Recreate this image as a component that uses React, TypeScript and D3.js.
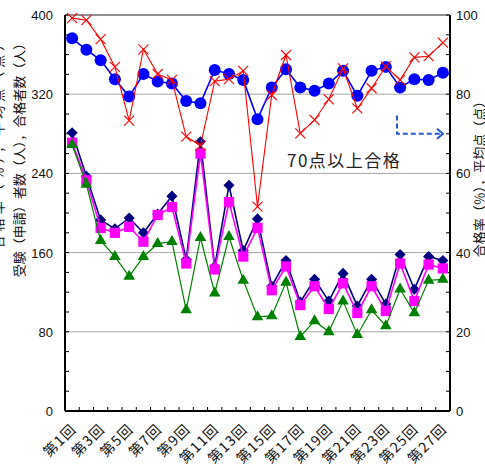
import { useEffect, useRef } from 'react';
import * as d3 from 'd3';

// 回次
const rounds = Array.from({ length: 27 }, (_, i) => `第${i + 1}回`);

// 左軸（人）
const applicants = [281, 237, 193, 184, 195, 180, 199, 217, 153, 272, 146, 228, 162, 194, 126, 152, 110, 133, 111, 139, 106, 133, 108, 158, 123, 156, 152];
const examinees = [271, 233, 185, 180, 186, 171, 198, 206, 149, 260, 143, 211, 156, 185, 122, 146, 107, 126, 103, 129, 99, 126, 101, 149, 111, 148, 144];
const passers = [269, 229, 172, 156, 136, 156, 169, 171, 102, 175, 119, 176, 132, 95, 96, 130, 75, 91, 80, 111, 77, 102, 86, 123, 99, 132, 133];

// 右軸（%・点）
const avgScore = [94.1, 91.2, 88.6, 83.8, 79.4, 85.1, 83.2, 82.7, 78.3, 77.7, 86.1, 85.1, 83.6, 73.7, 81.7, 86.3, 81.7, 80.9, 82.7, 85.9, 79.6, 85.9, 86.9, 81.7, 83.8, 83.6, 85.4];
const passRate = [99.2, 98.7, 93.9, 86.9, 73.3, 91.3, 85.1, 83.6, 69.3, 67.0, 83.3, 83.8, 85.9, 51.6, 79.8, 89.9, 70.1, 73.5, 78.7, 86.5, 76.4, 81.5, 87.0, 83.6, 89.3, 89.6, 93.0];

const leftTicks = [0, 80, 160, 240, 320, 400];
const rightTicks = [0, 20, 40, 60, 80, 100];
const passLine = 70;

export default function App() {
  const svgRef = useRef<SVGSVGElement>(null);

  useEffect(() => {
    if (!svgRef.current) return;
    d3.select(svgRef.current).selectAll('*').remove();

    const width = 485;
    const height = 465;
    const left = 65, right = 450, top = 15, bottom = 411;

    const svg = d3.select(svgRef.current)
      .attr('width', width)
      .attr('height', height);

    const x = d3.scaleBand<string>().domain(rounds).range([left, right]).padding(0);
    const cx = (i: number) => (x(rounds[i]) ?? 0) + x.bandwidth() / 2;
    const yL = d3.scaleLinear().domain([0, 400]).range([bottom, top]);
    const yR = d3.scaleLinear().domain([0, 100]).range([bottom, top]);

    // グリッド
    svg.append('g')
      .selectAll('line')
      .data([80, 160, 240, 320])
      .join('line')
      .attr('x1', left).attr('x2', right)
      .attr('y1', d => yL(d)).attr('y2', d => yL(d))
      .attr('stroke', '#a6a6a6').attr('stroke-width', 1);

    // 目盛り（内向き）
    const minor = d3.range(0, 401, 20);
    svg.append('g').selectAll('line').data(minor).join('line')
      .attr('x1', left).attr('x2', left + 4)
      .attr('y1', d => yL(d)).attr('y2', d => yL(d))
      .attr('stroke', '#000');
    svg.append('g').selectAll('line').data(d3.range(0, 101, 5)).join('line')
      .attr('x1', right - 4).attr('x2', right)
      .attr('y1', d => yR(d)).attr('y2', d => yR(d))
      .attr('stroke', '#000');
    svg.append('g').selectAll('line').data(rounds.slice(1)).join('line')
      .attr('x1', d => x(d) ?? 0).attr('x2', d => x(d) ?? 0)
      .attr('y1', bottom).attr('y2', bottom - 4)
      .attr('stroke', '#000');

    // 枠
    svg.append('line').attr('x1', left).attr('x2', right).attr('y1', top).attr('y2', top)
      .attr('stroke', '#222').attr('stroke-width', 1.2);
    svg.append('line').attr('x1', left).attr('x2', right).attr('y1', bottom).attr('y2', bottom)
      .attr('stroke', '#000').attr('stroke-width', 2);
    svg.append('line').attr('x1', left).attr('x2', left).attr('y1', top).attr('y2', bottom)
      .attr('stroke', '#000').attr('stroke-width', 2);
    svg.append('line').attr('x1', right).attr('x2', right).attr('y1', top).attr('y2', bottom)
      .attr('stroke', '#000').attr('stroke-width', 2);

    // 軸ラベル
    const numFont = '"Liberation Sans", Arial, sans-serif';
    const jpFont = '"Noto Sans CJK JP", "Noto Sans", sans-serif';

    svg.append('g').selectAll('text').data(leftTicks).join('text')
      .attr('x', 53).attr('y', d => yL(d) + 5)
      .attr('text-anchor', 'end')
      .attr('font-family', numFont).attr('font-size', 13).attr('fill', '#111')
      .text(d => d);

    svg.append('g').selectAll('text').data(rightTicks).join('text')
      .attr('x', 456).attr('y', d => yR(d) + 5)
      .attr('text-anchor', 'start')
      .attr('font-family', numFont).attr('font-size', 13).attr('fill', '#111')
      .text(d => d);

    svg.append('g').selectAll('text')
      .data(rounds.filter((_, i) => i % 2 === 0))
      .join('text')
      .attr('transform', d => `translate(${(x(d) ?? 0) + x.bandwidth() / 2 + 5},${bottom + 19}) rotate(-45)`)
      .attr('text-anchor', 'end')
      .attr('font-family', jpFont).attr('font-size', 14).attr('letter-spacing', 1.2)
      .attr('fill', '#111')
      .text(d => d);

    svg.append('text')
      .attr('transform', 'translate(24,157) rotate(-90)')
      .attr('text-anchor', 'middle')
      .attr('font-family', jpFont).attr('font-size', 13).attr('fill', '#111')
      .text('受験（申請）者数（人），合格者数（人）');

    svg.append('text')
      .attr('transform', 'translate(3,141) rotate(-90)')
      .attr('text-anchor', 'middle')
      .attr('font-family', jpFont).attr('font-size', 13).attr('letter-spacing', 4)
      .attr('fill', '#111')
      .text('合格率（％），平均点（点）');

    svg.append('text')
      .attr('transform', 'translate(484,176) rotate(-90)')
      .attr('text-anchor', 'middle')
      .attr('font-family', jpFont).attr('font-size', 13).attr('fill', '#111')
      .text('合格率（％），平均点（点）');

    // 系列
    const drawLine = (vals: number[], y: d3.ScaleLinear<number, number>, color: string, w: number) => {
      const line = d3.line<number>().x((_, i) => cx(i)).y(d => y(d));
      svg.append('path').datum(vals)
        .attr('fill', 'none').attr('stroke', color).attr('stroke-width', w)
        .attr('d', line);
    };

    // 受験申請者（紺・ひし形）
    drawLine(applicants, yL, '#000080', 1.6);
    svg.append('g').selectAll('path').data(applicants).join('path')
      .attr('d', d3.symbol(d3.symbolSquare, 62)())
      .attr('transform', (d, i) => `translate(${cx(i)},${yL(d)}) rotate(45)`)
      .attr('fill', '#000080');

    // 受験者（マゼンタ・四角）
    drawLine(examinees, yL, '#ff00ff', 1.6);
    svg.append('g').selectAll('path').data(examinees).join('path')
      .attr('d', d3.symbol(d3.symbolSquare, 105)())
      .attr('transform', (d, i) => `translate(${cx(i)},${yL(d)})`)
      .attr('fill', '#ff00ff');

    // 合格者（緑・三角）
    drawLine(passers, yL, '#008000', 1.2);
    svg.append('g').selectAll('path').data(passers).join('path')
      .attr('d', d3.symbol(d3.symbolTriangle, 58)())
      .attr('transform', (d, i) => `translate(${cx(i)},${yL(d)})`)
      .attr('fill', '#008000');

    // 平均点（青・丸）
    drawLine(avgScore, yR, '#0000ff', 1.6);
    svg.append('g').selectAll('circle').data(avgScore).join('circle')
      .attr('cx', (_, i) => cx(i)).attr('cy', d => yR(d)).attr('r', 6)
      .attr('fill', '#0000ff');

    // 合格率（赤・×）
    drawLine(passRate, yR, '#ff0000', 1.1);
    svg.append('g').selectAll('path').data(passRate).join('path')
      .attr('d', 'M-5,-5L5,5M-5,5L5,-5')
      .attr('transform', (d, i) => `translate(${cx(i)},${yR(d)})`)
      .attr('stroke', '#ff0000').attr('stroke-width', 1.1).attr('fill', 'none');

    // 70点以上合格の注記
    svg.append('text')
      .attr('x', 287).attr('y', 167)
      .attr('font-family', jpFont).attr('font-size', 17).attr('letter-spacing', 1.5)
      .attr('fill', '#222')
      .text(`${passLine}点以上合格`);

    const ay = yR(passLine);
    svg.append('path')
      .attr('d', `M397,${yR(passLine + 4.6)}L397,${ay}L${right - 7},${ay}`)
      .attr('fill', 'none').attr('stroke', '#2157d6').attr('stroke-width', 2)
      .attr('stroke-dasharray', '5,3');
    svg.append('path')
      .attr('d', `M${right - 13},${ay - 5}L${right - 7},${ay}L${right - 13},${ay + 5}`)
      .attr('fill', 'none').attr('stroke', '#2157d6').attr('stroke-width', 2);
  }, []);

  return (
    <div style={{ position: 'absolute', left: 0, top: 0 }}>
      <svg ref={svgRef} style={{ display: 'block' }}></svg>
    </div>
  );
}
